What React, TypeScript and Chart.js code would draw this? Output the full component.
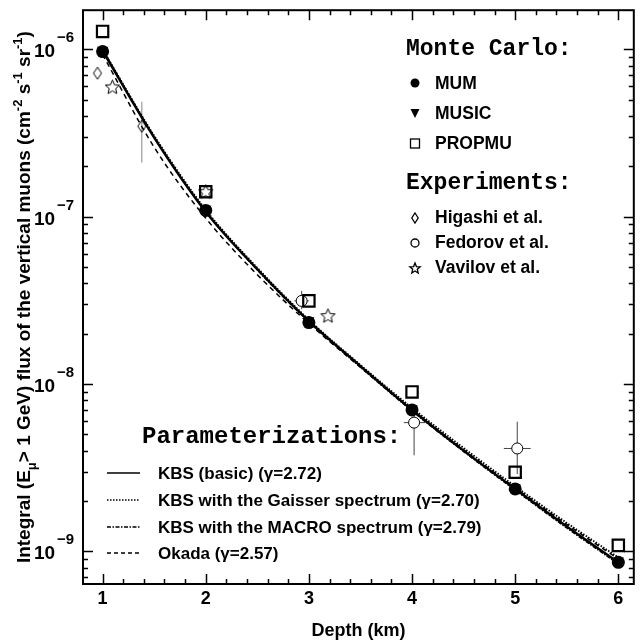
import React, { useEffect, useRef } from "react";
import { Chart, registerables } from "chart.js";

Chart.register(...registerables);

// ---------------- data ----------------
const mcDepth = [1, 2, 3, 4, 5, 6];
const mumFlux = [9.7e-7, 1.09e-7, 2.33e-8, 7.0e-9, 2.36e-9, 8.6e-10];
const musicFlux = [9.9e-7, 1.11e-7, 2.4e-8, 7.15e-9, 2.4e-9, 8.8e-10];
const propmuFlux = [1.28e-6, 1.41e-7, 3.14e-8, 8.97e-9, 2.97e-9, 1.086e-9];

const higashiDepth = [0.95, 1.38];
const higashiFlux = [7.2e-7, 3.47e-7];
const higashiFluxLow = [null, 2.11e-7];
const higashiFluxHigh = [null, 4.86e-7];

const fedorovDepth = [2.93, 4.02, 5.02];
const fedorovFlux = [3.14e-8, 5.88e-9, 4.12e-9];
const fedorovFluxLow = [2.8e-8, 3.75e-9, 2.9e-9];
const fedorovFluxHigh = [3.6e-8, 7.6e-9, 5.96e-9];
const fedorovDepthLow = [2.86, 3.92, 4.89];
const fedorovDepthHigh = [3.0, 4.13, 5.15];

const vavilovDepth = [1.095, 2.0, 3.185];
const vavilovFlux = [5.96e-7, 1.41e-7, 2.56e-8];

const curveDepth = [1, 1.5, 2, 2.5, 3, 3.5, 4, 4.5, 5, 5.5, 6];
const kbsBasic = [9.8e-7, 2.97e-7, 1.07e-7, 4.85e-8, 2.38e-8, 1.28e-8, 7.0e-9, 4.0e-9, 2.36e-9, 1.41e-9, 8.6e-10];
const kbsGaisser = [1.0e-6, 3.05e-7, 1.1e-7, 4.95e-8, 2.42e-8, 1.3e-8, 7.2e-9, 4.15e-9, 2.45e-9, 1.48e-9, 9.2e-10];
const kbsMacro = [1.0e-6, 3.0e-7, 1.08e-7, 4.8e-8, 2.35e-8, 1.26e-8, 6.9e-9, 3.95e-9, 2.32e-9, 1.38e-9, 8.4e-10];
const okada = [9.3e-7, 2.6e-7, 9.8e-8, 4.5e-8, 2.3e-8, 1.26e-8, 7.0e-9, 4.05e-9, 2.4e-9, 1.45e-9, 9.0e-10];

const xTickValues = [1, 2, 3, 4, 5, 6];
const xTickLabels = ["1", "2", "3", "4", "5", "6"];
const yDecadeExponents = [-6, -7, -8, -9];
const yTickLabelsBase = ["10", "10", "10", "10"];
const yTickLabelsExp = ["\u22126", "\u22127", "\u22128", "\u22129"];

const X_MIN = 0.81;
const X_MAX = 6.15;
const Y_MIN = Math.pow(10, -9.195);
const Y_MAX = Math.pow(10, -5.766);

const SANS = '"Liberation Sans", Arial, Helvetica, sans-serif';
const MONO = '"Liberation Mono", "Courier New", monospace';

// ---------------- marker glyphs ----------------
function makeStar(r: number, lw: number): HTMLCanvasElement {
  const c = document.createElement("canvas");
  const s = Math.ceil(r * 2 + lw * 2 + 2);
  c.width = s;
  c.height = s;
  const g = c.getContext("2d")!;
  g.strokeStyle = "#000";
  g.lineWidth = lw;
  g.beginPath();
  for (let i = 0; i < 10; i++) {
    const a = -Math.PI / 2 + (i * Math.PI) / 5;
    const rr = i % 2 === 0 ? r : r * 0.45;
    const px = s / 2 + rr * Math.cos(a);
    const py = s / 2 + 0.5 + rr * Math.sin(a);
    if (i === 0) g.moveTo(px, py);
    else g.lineTo(px, py);
  }
  g.closePath();
  g.stroke();
  return c;
}

function makeDiamond(w: number, h: number, lw: number): HTMLCanvasElement {
  const c = document.createElement("canvas");
  c.width = Math.ceil(w + lw * 2 + 2);
  c.height = Math.ceil(h + lw * 2 + 2);
  const g = c.getContext("2d")!;
  const cx = c.width / 2;
  const cy = c.height / 2;
  g.strokeStyle = "#000";
  g.lineWidth = lw;
  g.beginPath();
  g.moveTo(cx, cy - h / 2);
  g.lineTo(cx + w / 2, cy);
  g.lineTo(cx, cy + h / 2);
  g.lineTo(cx - w / 2, cy);
  g.closePath();
  g.stroke();
  return c;
}

function pts(xs: number[], ys: number[]) {
  return xs.map((x, i) => ({ x, y: ys[i] }));
}

// ---------------- plugins ----------------
const errorBarPlugin = {
  id: "errorBars",
  beforeDatasetsDraw(chart: any) {
    const ctx = chart.ctx;
    const xs = chart.scales.x;
    const ys = chart.scales.y;
    const ca = chart.chartArea;
    ctx.save();
    ctx.beginPath();
    ctx.rect(ca.left, ca.top, ca.right - ca.left, ca.bottom - ca.top);
    ctx.clip();
    // Higashi (grey)
    ctx.strokeStyle = "#9a9a9a";
    ctx.lineWidth = 1.2;
    higashiDepth.forEach((d, i) => {
      const lo = higashiFluxLow[i];
      const hi = higashiFluxHigh[i];
      if (lo == null || hi == null) return;
      const px = xs.getPixelForValue(d);
      ctx.beginPath();
      ctx.moveTo(px, ys.getPixelForValue(lo));
      ctx.lineTo(px, ys.getPixelForValue(hi));
      ctx.stroke();
    });
    // Fedorov
    ctx.strokeStyle = "#444";
    ctx.lineWidth = 1;
    fedorovDepth.forEach((d, i) => {
      const px = xs.getPixelForValue(d);
      const py = ys.getPixelForValue(fedorovFlux[i]);
      ctx.beginPath();
      ctx.moveTo(px, ys.getPixelForValue(fedorovFluxLow[i]));
      ctx.lineTo(px, ys.getPixelForValue(fedorovFluxHigh[i]));
      ctx.moveTo(xs.getPixelForValue(fedorovDepthLow[i]), py);
      ctx.lineTo(xs.getPixelForValue(fedorovDepthHigh[i]), py);
      ctx.stroke();
    });
    ctx.restore();
  },
};

function drawRich(
  ctx: CanvasRenderingContext2D,
  parts: { t: string; k: "n" | "sup" | "sub" }[],
  x: number,
  y: number,
  size: number,
  align: "center" | "left"
) {
  const fN = `bold ${size}px ${SANS}`;
  const fS = `bold ${Math.round(size * 0.7)}px ${SANS}`;
  let total = 0;
  const widths = parts.map((p) => {
    ctx.font = p.k === "n" ? fN : fS;
    const w = ctx.measureText(p.t).width;
    total += w;
    return w;
  });
  let cx = align === "center" ? x - total / 2 : x;
  parts.forEach((p, i) => {
    ctx.font = p.k === "n" ? fN : fS;
    const dy = p.k === "sup" ? -size * 0.42 : p.k === "sub" ? size * 0.3 : 0;
    ctx.fillText(p.t, cx, y + dy);
    cx += widths[i];
  });
}

const framePlugin = {
  id: "frameAndText",
  afterDraw(chart: any) {
    const ctx: CanvasRenderingContext2D = chart.ctx;
    const xs = chart.scales.x;
    const ys = chart.scales.y;
    const ca = chart.chartArea;
    ctx.save();
    ctx.strokeStyle = "#000";
    ctx.fillStyle = "#000";
    // frame
    ctx.lineWidth = 2;
    ctx.strokeRect(ca.left, ca.top, ca.right - ca.left, ca.bottom - ca.top);
    // x ticks (inward, bottom and top)
    ctx.lineWidth = 1.5;
    for (let v = 1; v <= 6.0001 + 0.2; v += 0.2) {
      const vv = Math.round(v * 10) / 10;
      if (vv < X_MIN || vv > X_MAX) continue;
      const px = Math.round(xs.getPixelForValue(vv)) + 0.5;
      const major = Math.abs(vv - Math.round(vv)) < 1e-6;
      const len = major ? 10 : 5;
      ctx.beginPath();
      ctx.moveTo(px, ca.bottom);
      ctx.lineTo(px, ca.bottom - len);
      ctx.moveTo(px, ca.top);
      ctx.lineTo(px, ca.top + len);
      ctx.stroke();
    }
    // y ticks (inward, left and right)
    for (let e = -10; e <= -5; e++) {
      for (let m = 1; m <= 9; m++) {
        const v = m * Math.pow(10, e);
        if (v < Y_MIN || v > Y_MAX) continue;
        const py = Math.round(ys.getPixelForValue(v)) + 0.5;
        const len = m === 1 ? 10 : 5;
        ctx.beginPath();
        ctx.moveTo(ca.left, py);
        ctx.lineTo(ca.left + len, py);
        ctx.moveTo(ca.right, py);
        ctx.lineTo(ca.right - len, py);
        ctx.stroke();
      }
    }
    // x tick labels
    ctx.font = `bold 18px ${SANS}`;
    ctx.textAlign = "center";
    ctx.textBaseline = "alphabetic";
    xTickValues.forEach((v, i) => {
      ctx.fillText(xTickLabels[i], xs.getPixelForValue(v), 604);
    });
    // y tick labels
    ctx.textAlign = "left";
    yDecadeExponents.forEach((e, i) => {
      const py = ys.getPixelForValue(Math.pow(10, e));
      ctx.font = `bold 19px ${SANS}`;
      ctx.fillText(yTickLabelsBase[i], 34, py + 8);
      ctx.font = `bold 15px ${SANS}`;
      ctx.fillText(yTickLabelsExp[i], 57, py - 7);
    });
    // x title
    drawRich(ctx, [{ t: "Depth (km)", k: "n" }], (ca.left + ca.right) / 2, 636, 18, "center");
    // y title
    ctx.save();
    ctx.translate(30, (ca.top + ca.bottom) / 2);
    ctx.rotate(-Math.PI / 2);
    drawRich(
      ctx,
      [
        { t: "Integral (E", k: "n" },
        { t: "\u03bc", k: "sub" },
        { t: "> 1 GeV) flux of the vertical muons (cm", k: "n" },
        { t: "-2", k: "sup" },
        { t: " s", k: "n" },
        { t: "-1", k: "sup" },
        { t: " sr", k: "n" },
        { t: "-1", k: "sup" },
        { t: ")", k: "n" },
      ],
      0,
      0,
      19,
      "center"
    );
    ctx.restore();

    // ---- Monte Carlo / Experiments legend ----
    ctx.textAlign = "left";
    ctx.font = `bold 23px ${MONO}`;
    ctx.fillText("Monte Carlo:", 406, 55);
    ctx.fillText("Experiments:", 406, 189);
    ctx.font = `bold 17.5px ${SANS}`;
    const mx = 415;
    // MUM
    ctx.beginPath();
    ctx.arc(mx, 83, 4.5, 0, Math.PI * 2);
    ctx.fill();
    ctx.fillText("MUM", 435, 89);
    // MUSIC
    ctx.beginPath();
    ctx.moveTo(mx - 4.5, 109);
    ctx.lineTo(mx + 4.5, 109);
    ctx.lineTo(mx, 118);
    ctx.closePath();
    ctx.fill();
    ctx.fillText("MUSIC", 435, 119);
    // PROPMU
    ctx.lineWidth = 1.3;
    ctx.strokeRect(mx - 4.5, 139, 9, 9);
    ctx.fillText("PROPMU", 435, 149);
    // Higashi
    ctx.lineWidth = 1.3;
    ctx.beginPath();
    ctx.moveTo(mx, 213);
    ctx.lineTo(mx + 3.2, 218);
    ctx.lineTo(mx, 223);
    ctx.lineTo(mx - 3.2, 218);
    ctx.closePath();
    ctx.stroke();
    ctx.fillText("Higashi et al.", 435, 223);
    // Fedorov
    ctx.beginPath();
    ctx.arc(mx, 243, 4, 0, Math.PI * 2);
    ctx.stroke();
    ctx.fillText("Fedorov et al.", 435, 248);
    // Vavilov
    ctx.beginPath();
    for (let i = 0; i < 10; i++) {
      const a = -Math.PI / 2 + (i * Math.PI) / 5;
      const rr = i % 2 === 0 ? 5.5 : 2.4;
      const px = mx + rr * Math.cos(a);
      const py = 268.5 + rr * Math.sin(a);
      if (i === 0) ctx.moveTo(px, py);
      else ctx.lineTo(px, py);
    }
    ctx.closePath();
    ctx.stroke();
    ctx.fillText("Vavilov et al.", 435, 273);

    // ---- Parameterizations legend ----
    ctx.font = `bold 24px ${MONO}`;
    ctx.fillText("Parameterizations:", 142, 443);
    ctx.font = `bold 17px ${SANS}`;
    const lines: { label: string; dash: number[]; w: number; y: number }[] = [
      { label: "KBS (basic) (\u03b3=2.72)", dash: [], w: 1.6, y: 473 },
      { label: "KBS with the Gaisser spectrum (\u03b3=2.70)", dash: [1.5, 1.5], w: 1.6, y: 500 },
      { label: "KBS with the MACRO spectrum (\u03b3=2.79)", dash: [4, 1.5, 1.5, 1.5], w: 1.4, y: 527 },
      { label: "Okada (\u03b3=2.57)", dash: [4, 3], w: 1.4, y: 553 },
    ];
    lines.forEach((l) => {
      ctx.setLineDash(l.dash);
      ctx.lineWidth = l.w;
      ctx.beginPath();
      ctx.moveTo(107, l.y);
      ctx.lineTo(140, l.y);
      ctx.stroke();
      ctx.setLineDash([]);
      ctx.fillText(l.label, 158, l.y + 6);
    });
    ctx.restore();
  },
};

export default function App() {
  const ref = useRef<HTMLCanvasElement | null>(null);
  useEffect(() => {
    if (!ref.current) return;
    const star = makeStar(7.5, 1);
    const diamond = makeDiamond(8, 12, 1);
    const chart = new Chart(ref.current, {
      type: "scatter",
      data: {
        datasets: [
          {
            label: "MUM",
            data: pts(mcDepth, mumFlux),
            pointStyle: "circle",
            pointRadius: 6.5,
            backgroundColor: "#000",
            borderColor: "#000",
            borderWidth: 0,
            showLine: false,
          },
          {
            label: "MUSIC",
            data: pts(mcDepth, musicFlux),
            pointStyle: "triangle",
            rotation: 180,
            pointRadius: 6.5,
            backgroundColor: "#000",
            borderColor: "#000",
            borderWidth: 0,
            showLine: false,
          } as any,
          {
            label: "PROPMU",
            data: pts(mcDepth, propmuFlux),
            pointStyle: "rect",
            pointRadius: 8,
            backgroundColor: "rgba(0,0,0,0)",
            borderColor: "#000",
            borderWidth: 2.2,
            showLine: false,
          },
          {
            label: "Higashi et al.",
            data: pts(higashiDepth, higashiFlux),
            pointStyle: diamond,
            showLine: false,
          },
          {
            label: "Fedorov et al.",
            data: pts(fedorovDepth, fedorovFlux),
            pointStyle: "circle",
            pointRadius: 5.5,
            backgroundColor: "#fff",
            borderColor: "#000",
            borderWidth: 1,
            showLine: false,
          },
          {
            label: "Vavilov et al.",
            data: pts(vavilovDepth, vavilovFlux),
            pointStyle: star,
            showLine: false,
          },
          {
            label: "KBS (basic)",
            data: pts(curveDepth, kbsBasic),
            showLine: true,
            borderColor: "#000",
            borderWidth: 2.4,
            pointRadius: 0,
            cubicInterpolationMode: "monotone",
          },
          {
            label: "KBS Gaisser",
            data: pts(curveDepth, kbsGaisser),
            showLine: true,
            borderColor: "#000",
            borderWidth: 1.8,
            borderDash: [1.5, 1.5],
            pointRadius: 0,
            cubicInterpolationMode: "monotone",
          },
          {
            label: "KBS MACRO",
            data: pts(curveDepth, kbsMacro),
            showLine: true,
            borderColor: "#000",
            borderWidth: 1.5,
            borderDash: [4, 1.5, 1.5, 1.5],
            pointRadius: 0,
            cubicInterpolationMode: "monotone",
          },
          {
            label: "Okada",
            data: pts(curveDepth, okada),
            showLine: true,
            borderColor: "#000",
            borderWidth: 1.5,
            borderDash: [5, 4],
            pointRadius: 0,
            cubicInterpolationMode: "monotone",
          },
        ] as any,
      },
      options: {
        animation: false,
        responsive: false,
        maintainAspectRatio: false,
        layout: { padding: { left: 83, right: 1, top: 5, bottom: 59 } },
        plugins: { legend: { display: false }, tooltip: { enabled: false } },
        scales: {
          x: { type: "linear", min: X_MIN, max: X_MAX, display: false },
          y: { type: "logarithmic", min: Y_MIN, max: Y_MAX, display: false },
        },
      },
      plugins: [errorBarPlugin, framePlugin],
    });
    return () => chart.destroy();
  }, []);
  return (
    <div style={{ position: "fixed", left: 0, top: 0, width: 644, height: 643, background: "#fff" }}>
      <canvas ref={ref} width={644} height={643} style={{ width: 644, height: 643, display: "block" }} />
    </div>
  );
}
